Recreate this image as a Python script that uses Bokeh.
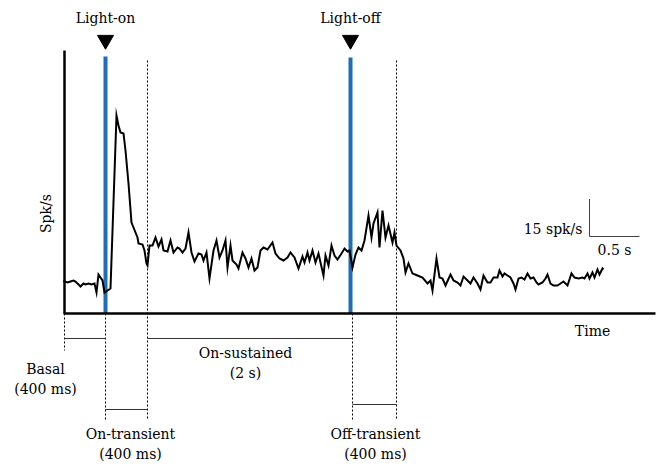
from bokeh.plotting import figure
from bokeh.models import Range1d
from bokeh.core.properties import value
from bokeh.embed import file_html
from bokeh.resources import INLINE
import math

# ---- data (time in s relative to light-on, rate in spk/s) ----
time_s = [-0.42, -0.41, -0.38, -0.35, -0.32, -0.30, -0.27, -0.25, -0.22, -0.20, -0.17, -0.14, -0.11, -0.09, -0.07, -0.05, -0.03, -0.01,
          0.05, 0.11, 0.13, 0.15, 0.18, 0.20, 0.23, 0.26, 0.28, 0.32, 0.33, 0.37, 0.39, 0.41, 0.42, 0.44, 0.47, 0.50, 0.53, 0.56, 0.58,
          0.62, 0.65, 0.68, 0.72, 0.74, 0.77, 0.80, 0.83, 0.86, 0.89, 0.93, 0.96, 0.98, 1.01, 1.04, 1.08, 1.11, 1.14, 1.17, 1.20, 1.22,
          1.25, 1.27, 1.31, 1.33, 1.37, 1.40, 1.43, 1.46, 1.49, 1.52, 1.55, 1.58, 1.62, 1.67, 1.70, 1.74, 1.78, 1.82, 1.85, 1.89, 1.93,
          1.97, 1.99, 2.02, 2.04, 2.07, 2.10, 2.13, 2.15, 2.18, 2.20, 2.23, 2.26, 2.29, 2.32, 2.36, 2.39, 2.42, 2.44, 2.47, 2.50, 2.53,
          2.56, 2.59, 2.63, 2.66, 2.68, 2.72, 2.74, 2.77, 2.80, 2.83, 2.87, 2.89, 2.91, 2.95, 2.98, 3.00, 3.03, 3.07, 3.12, 3.17, 3.22,
          3.25, 3.27, 3.31, 3.34, 3.37, 3.40, 3.45, 3.48, 3.52, 3.55, 3.58, 3.62, 3.65, 3.68, 3.72, 3.75, 3.78, 3.82, 3.85, 3.88, 3.92,
          3.94, 3.97, 3.99, 4.02, 4.05, 4.08, 4.10, 4.13, 4.16, 4.19, 4.22, 4.25, 4.28, 4.31, 4.33, 4.37, 4.40, 4.42, 4.45, 4.48, 4.52,
          4.55, 4.58, 4.62, 4.66, 4.69, 4.73, 4.77, 4.79, 4.82, 4.84, 4.87, 4.89, 4.92, 4.94, 4.97, 4.98]
rate = [13.2, 12.8, 12.4, 12.8, 13.2, 12.8, 11.6, 10.8, 12.0, 11.6, 12.0, 11.6, 12.0, 8.4, 15.6, 14.4, 13.2, 8.4,
        10.0, 79.2, 75.2, 72.4, 72.0, 65.2, 52.0, 36.4, 34.4, 30.4, 28.0, 27.6, 25.2, 20.0, 19.2, 27.2, 27.2, 30.4, 26.8, 29.6, 25.2,
        24.8, 29.2, 24.4, 26.4, 26.0, 24.4, 26.0, 32.4, 24.4, 20.8, 24.0, 23.6, 21.2, 24.4, 14.0, 25.2, 29.2, 22.4, 25.2, 29.2, 18.4,
        27.2, 21.2, 19.6, 18.0, 24.4, 22.0, 18.4, 22.0, 17.2, 18.4, 25.2, 26.4, 25.6, 28.4, 24.0, 22.0, 21.2, 22.4, 24.4, 22.4, 18.0,
        22.8, 20.4, 24.4, 21.2, 25.2, 20.4, 24.0, 20.4, 15.2, 23.2, 19.2, 27.2, 23.2, 21.6, 24.0, 26.0, 24.8, 25.2, 18.4, 23.6, 26.4,
        25.2, 29.2, 39.2, 30.4, 36.0, 40.4, 26.4, 41.2, 30.4, 35.2, 28.4, 32.4, 27.2, 25.2, 22.0, 16.4, 20.0, 16.0, 15.2, 14.4, 12.0,
        13.2, 9.2, 22.0, 14.4, 14.0, 11.2, 15.6, 13.2, 12.4, 11.2, 14.8, 13.2, 12.0, 14.4, 12.0, 9.6, 15.2, 12.4, 12.4, 14.4, 14.4,
        17.2, 14.8, 16.0, 15.2, 14.4, 12.0, 9.6, 14.0, 14.4, 13.6, 16.0, 14.0, 14.4, 12.4, 11.6, 12.4, 14.0, 15.6, 12.0, 11.2, 11.2,
        12.0, 12.8, 11.2, 16.0, 14.4, 14.0, 14.4, 14.0, 16.0, 14.0, 16.4, 14.4, 17.6, 15.6, 18.0, 17.6]

event_times = [0.0, 2.45]
event_labels = ["Light-on", "Light-off"]
phase_bounds = [-0.41, 0.0, 0.42, 2.47, 2.91]   # basal start, on, on-transient end, off, off-transient end
phase_names = ["Basal", "On-transient", "On-sustained", "Off-transient"]
phase_durations = ["(400 ms)", "(400 ms)", "(2 s)", "(400 ms)"]
scale_rate = 15
scale_time = 0.5

SERIF = value("DejaVu Serif")
FS = "14px"
BLUE = "#1f6db5"

p = figure(width=657, height=466, output_backend="svg", toolbar_location=None,
           x_range=Range1d(-1.05, 5.52), y_range=Range1d(-61.2, 125.2),
           min_border=0, min_border_left=0, min_border_right=0, min_border_top=0, min_border_bottom=0)
p.axis.visible = False
p.grid.visible = False
p.outline_line_color = None
p.background_fill_color = "white"

t0 = phase_bounds[0]

# dashed phase markers
dash_x = [phase_bounds[0], phase_bounds[1], phase_bounds[2], phase_bounds[3], phase_bounds[4]]
dash_top = [0, 0, 101.2, 0, 101.2]
dash_bot = [-14.8, -42.8, -42.8, -42.8, -42.8]
p.segment(x0=dash_x, y0=dash_top, x1=dash_x, y1=dash_bot, line_color="black", line_width=1, line_dash="2 2")

# light events
p.segment(x0=event_times, y0=[102.8, 102.4], x1=event_times, y1=[0, 0], line_color=BLUE, line_width=4)
p.scatter(x=event_times, y=[109.4, 109.4], marker="inverted_triangle", size=16, fill_color="black", line_color="black")
p.text(x=event_times, y=[118.4, 118.4], text=event_labels, text_font=SERIF, text_font_size=FS,
       text_align="center", text_baseline="middle", text_color="black")

# trace
p.line(time_s, rate, line_color="black", line_width=2, line_join="miter")

# axes lines
p.line([t0, t0], [105.2, 0], line_color="black", line_width=2.5)
p.line([t0 - 0.01, 5.50], [0, 0], line_color="black", line_width=2.5)

# phase interval bars
p.segment(x0=[phase_bounds[0], phase_bounds[2]], y0=[-10, -10], x1=[phase_bounds[1], phase_bounds[3]], y1=[-10, -10],
          line_color="#333333", line_width=1)
p.segment(x0=[phase_bounds[1], phase_bounds[3]], y0=[-38.4, -36.4], x1=[phase_bounds[2], phase_bounds[4]], y1=[-38.4, -36.4],
          line_color="#333333", line_width=1)

def label(x, y, txt, align="center", angle=0.0, size=FS):
    p.text(x=[x], y=[y], text=[txt], text_font=SERIF, text_font_size=size, text_align=align,
           text_baseline="middle", text_color="black", angle=angle)

# phase labels
label(-0.60, -22, phase_names[0]); label(-0.60, -30, phase_durations[0])
label(0.25, -48, phase_names[1]); label(0.25, -56, phase_durations[1])
label(1.40, -15.6, phase_names[2]); label(1.40, -23.6, phase_durations[2])
label(2.70, -48, phase_names[3]); label(2.70, -56, phase_durations[3])

# axis labels
label(-0.60, 40, "Spk/s", angle=math.pi / 2)
label(4.87, -6.8, "Time")

# scale bar
sb_x, sb_y = 4.84, 30.8
p.line([sb_x, sb_x, sb_x + scale_time], [sb_y + scale_rate, sb_y, sb_y], line_color="#444444", line_width=1)
label(4.77, 34, f"{scale_rate} spk/s", align="right")
label(sb_x + scale_time / 2, 25.6, f"{scale_time} s")

open("out.html", "w").write(file_html(p, INLINE))
